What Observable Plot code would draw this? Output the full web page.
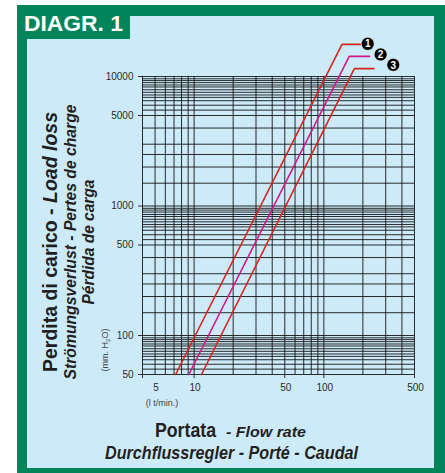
<!DOCTYPE html>
<html><head><meta charset="utf-8">
<script src="https://cdn.jsdelivr.net/npm/d3@7"></script>
<script src="https://cdn.jsdelivr.net/npm/@observablehq/plot@0.6"></script>
<style>
html,body{margin:0;padding:0;background:#fff;}
#wrap{position:relative;width:445px;height:473px;overflow:hidden;}
#frame{position:absolute;left:17px;top:5px;width:428px;height:468px;background:#00845a;}
#panel{position:absolute;left:27px;top:16px;width:407px;height:452px;background:#cdeaf8;}
#tab{position:absolute;left:17px;top:5px;width:113px;height:34px;background:#00845a;}
#chart,#labels{position:absolute;left:0;top:0;}
</style></head><body>
<div id="wrap"><div id="frame"></div><div id="panel"></div><div id="tab"></div><div id="chart"></div><svg id="labels" width="445" height="473"></svg></div>
<script>
// Series (flow l/min vs load loss mm H2O)
const seriesNames = ["1", "2", "3"];
const seriesColors = ["#d9231c", "#d4168a", "#d9231c"];
const flow1 = [7.2, 138, 200];
const loss1 = [50, 17700, 17700];
const flow2 = [9.1, 157, 225];
const loss2 = [50, 14300, 14300];
const flow3 = [11.4, 172, 243];
const loss3 = [50, 11500, 11500];
// marker positions for series numbers
const markerFlow = [218, 274, 343];
const markerLoss = [17890, 14790, 12310];
// ticks & grid
const xTickLabels = [5, 10, 50, 100, 500];
const xTickMarks = [4, 10, 50, 100, 500];
const yTickLabels = [50, 100, 500, 1000, 5000, 10000];
const xGrid = [4,5,6,7,8,9,10,20,30,40,50,60,70,80,90,100,200,300,400,500];
const yGrid = [10000,9600,9300,8970,8600,8300,7900,7550,7200,6900,6500,6000,5500,5000,4000,3000,2500,2000,1500,
  1000,960,930,897,860,830,790,755,720,690,650,600,550,500,400,300,250,200,150,
  100,96,93,89.7,86,83,79,75.5,72,69,65,60,55,50];

const flows = [flow1, flow2, flow3];
const losses = [loss1, loss2, loss3];
const pts = [];
seriesNames.forEach((s, i) => flows[i].forEach((f, j) => pts.push({s, flow: f, loss: losses[i][j]})));
const markers = seriesNames.map((s, i) => ({s, flow: markerFlow[i], loss: markerLoss[i]}));
const fmt = d3.format("d");

const chart = Plot.plot({
  width: 445, height: 473,
  marginLeft: 142, marginRight: 31, marginTop: 76, marginBottom: 99,
  style: {background: "transparent", fontFamily: "'Liberation Sans', Arial, sans-serif", fontSize: "10px", color: "#2a2a2a"},
  x: {type: "log", domain: [4, 500], label: null, axis: null},
  y: {type: "log", domain: [50, 10000], label: null, axis: null},
  color: {domain: seriesNames, range: seriesColors},
  marks: [
    Plot.ruleX(xGrid, {stroke: "#111", strokeWidth: 1, strokeOpacity: 0.88}),
    Plot.ruleY(yGrid, {stroke: "#111", strokeWidth: 1, strokeOpacity: 0.88}),
    // y tick marks and labels
    Plot.ruleY(yTickLabels, {y: d => d, x1: xGrid[0], x2: xGrid[0], insetLeft: -4, stroke: "#333"}),
    Plot.text(yTickLabels, {y: d => d, text: d => fmt(d), frameAnchor: "left", textAnchor: "end", dx: -9, fill: "#2a2a2a"}),
    // x tick marks and labels
    Plot.ruleX(xTickMarks, {x: d => d, y1: yGrid[yGrid.length - 1], y2: yGrid[yGrid.length - 1], insetBottom: -4, stroke: "#333"}),
    Plot.text(xTickLabels, {x: d => d, text: d => fmt(d), frameAnchor: "bottom", lineAnchor: "top", dy: 9, dx: 1, fill: "#2a2a2a"}),
    Plot.line(pts, {x: "flow", y: "loss", z: "s", stroke: "s", strokeWidth: 1.6}),
    Plot.dot(markers, {x: "flow", y: "loss", r: 6.5, fill: "#000", stroke: "#fff", strokeWidth: 0.6}),
    Plot.text(markers, {x: "flow", y: "loss", text: "s", fill: "#fff", fontWeight: "bold", fontSize: 10, dy: 0.5})
  ]
});
document.getElementById("chart").appendChild(chart);

// Titles and axis captions
const svg = d3.select("#labels");
const ff = "'Liberation Sans', Arial, sans-serif";
const dark = "#231f20";
svg.append("text").attr("x", 24).attr("y", 31).attr("textLength", 99).attr("lengthAdjust", "spacingAndGlyphs")
  .attr("font-family", ff).attr("font-weight", "bold").attr("font-size", 22)
  .attr("fill", "#fff").text("DIAGR. 1");

function rotLine(bx, len, size, parts) {
  const t = svg.append("text").attr("transform", `translate(${bx},242) rotate(-90)`)
    .attr("text-anchor", "middle").attr("textLength", len).attr("lengthAdjust", "spacingAndGlyphs")
    .attr("font-family", ff).attr("font-weight", "bold").attr("font-size", size).attr("fill", dark);
  parts.forEach(([txt, it]) => t.append("tspan").attr("font-style", it ? "italic" : "normal").text(txt));
}
rotLine(57, 260, 19.5, [["Perdita di carico - ", false], ["Load loss", true]]);
rotLine(75.5, 275, 17, [["Strömungsverlust - Pertes de charge", true]]);
rotLine(94, 125, 17, [["Pérdida de carga", true]]);

const mm = svg.append("text").attr("transform", "translate(108,350) rotate(-90)").attr("text-anchor", "middle")
  .attr("font-family", ff).attr("font-size", 9).attr("fill", "#444");
mm.append("tspan").text("(mm. H");
mm.append("tspan").attr("font-size", 6).attr("dy", 2).text("2");
mm.append("tspan").attr("dy", -2).text("O)");

svg.append("text").attr("x", 162).attr("y", 406).attr("text-anchor", "middle")
  .attr("font-family", ff).attr("font-size", 9).attr("fill", "#444").text("(l t/min.)");

svg.append("text").attr("x", 155).attr("y", 437).attr("textLength", 61).attr("lengthAdjust", "spacingAndGlyphs")
  .attr("font-family", ff).attr("font-weight", "bold").attr("font-size", 20).attr("fill", dark).text("Portata");
svg.append("text").attr("x", 226).attr("y", 437).attr("textLength", 80).attr("lengthAdjust", "spacingAndGlyphs")
  .attr("font-family", ff).attr("font-weight", "bold").attr("font-style", "italic").attr("font-size", 15.5).attr("fill", dark).text("- Flow rate");
svg.append("text").attr("x", 105).attr("y", 459).attr("textLength", 253).attr("lengthAdjust", "spacingAndGlyphs")
  .attr("font-family", ff).attr("font-weight", "bold").attr("font-style", "italic").attr("font-size", 18).attr("fill", dark).text("Durchflussregler - Porté - Caudal");
</script>
</body></html>
